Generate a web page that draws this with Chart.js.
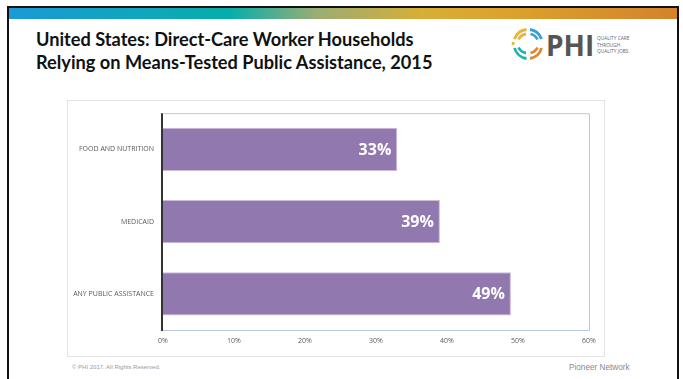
<!DOCTYPE html>
<html>
<head>
<meta charset="utf-8">
<script src="https://cdn.jsdelivr.net/npm/chart.js@4/dist/chart.umd.min.js"></script>
<style>
  html, body { margin:0; padding:0; background:#fff; width:683px; height:379px; overflow:hidden; font-family:"Open Sans", sans-serif; }
  #frame { position:absolute; left:7px; top:6px; width:672px; height:380px; border:2px solid #111; border-bottom:none; box-sizing:border-box; }
  #grad { position:absolute; left:9px; top:8px; width:668px; height:11px;
    background:linear-gradient(to right,#1b9ad6 0%,#0fa7b9 22%,#05aeaa 33%,#9aad75 46%,#d8ae36 62%,#dba22d 75%,#d4832b 100%); }
  #title { position:absolute; left:36px; top:28px; font-family:Lato, sans-serif; font-weight:bold; font-size:18.2px; line-height:23px; color:#111; white-space:nowrap; }
  #box { position:absolute; left:67px; top:100px; width:538px; height:257px; border:1px solid #e3e3e3; box-sizing:border-box; }
  #c { position:absolute; left:67px; top:100px; }
  #copy { position:absolute; left:72px; top:364px; font-family:"Liberation Sans", sans-serif; font-size:6px; color:#9a9a9a; }
  #pn { position:absolute; left:569px; top:363px; font-family:"Liberation Sans", sans-serif; font-size:8.2px; color:#8a8a8a; }
  #logo { position:absolute; left:508px; top:27px; }
</style>
</head>
<body>
<div id="frame"></div>
<div id="grad"></div>
<div id="title">United States: Direct-Care Worker Households<br>Relying on Means-Tested Public Assistance, 2015</div>
<div id="box"></div>
<svg id="logo" width="140" height="36" viewBox="0 0 140 36">
  <g fill="none" stroke-width="2.8" stroke-linecap="butt">
    <path d="M6.5 12 A14.5 14.5 0 0 1 18.5 2.5" stroke="#e9b43a"/>
    <path d="M22 2.5 A14.5 14.5 0 0 1 33.5 12" stroke="#3a9fd6"/>
    <path d="M33.5 21 A14.5 14.5 0 0 1 22 31.5" stroke="#e2862f"/>
    <path d="M18.5 31.5 A14.5 14.5 0 0 1 6.5 21" stroke="#22b0b3"/>
    <path d="M10.5 12.5 A10 10 0 0 1 18 7" stroke="#e9b43a"/>
    <path d="M22.5 7 A10 10 0 0 1 29.5 12.5" stroke="#3a9fd6"/>
    <path d="M29.5 20.5 A10 10 0 0 1 22.5 26" stroke="#e2862f"/>
    <path d="M18 26 A10 10 0 0 1 10.5 20.5" stroke="#22b0b3"/>
    <path d="M5.2 15 A15 15 0 0 0 5.2 18" stroke="#e9b43a"/>
  </g>
  <text x="38" y="29" font-family="'Open Sans', sans-serif" font-weight="bold" font-size="28" fill="#555">PHI</text>
  <text x="89" y="13" font-family="'Open Sans', sans-serif" font-size="4.8" fill="#666">QUALITY CARE</text>
  <text x="89" y="19.5" font-family="'Open Sans', sans-serif" font-size="4.8" fill="#666">THROUGH</text>
  <text x="89" y="26" font-family="'Open Sans', sans-serif" font-size="4.8" fill="#666">QUALITY JOBS</text>
</svg>
<canvas id="c" width="538" height="257"></canvas>
<div id="copy">© PHI 2017. All Rights Reserved.</div>
<div id="pn">Pioneer Network</div>
<script>
const categories = ["FOOD AND NUTRITION", "MEDICAID", "ANY PUBLIC ASSISTANCE"];
const values = [33, 39, 49];
const xTicks = [0, 10, 20, 30, 40, 50, 60];

const plotFrame = {
  id: 'plotFrame',
  afterDraw(chart) {
    const {ctx, chartArea: a} = chart;
    ctx.save();
    ctx.strokeStyle = '#b7c9e2';
    ctx.lineWidth = 1;
    ctx.beginPath();
    ctx.moveTo(a.left, a.top + 0.5); ctx.lineTo(a.right + 0.5, a.top + 0.5);
    ctx.lineTo(a.right + 0.5, a.bottom + 0.5); ctx.lineTo(a.left, a.bottom + 0.5);
    ctx.stroke();
    ctx.strokeStyle = '#333';
    ctx.lineWidth = 2;
    ctx.beginPath();
    ctx.moveTo(a.left - 1, a.top); ctx.lineTo(a.left - 1, a.bottom + 1);
    ctx.stroke();
    ctx.restore();
  }
};
const barLabels = {
  id: 'barLabels',
  afterDatasetsDraw(chart) {
    const {ctx} = chart;
    const meta = chart.getDatasetMeta(0);
    ctx.save();
    ctx.fillStyle = '#fff';
    ctx.font = 'bold 16px "Open Sans", sans-serif';
    ctx.textAlign = 'right';
    ctx.textBaseline = 'middle';
    meta.data.forEach((bar, i) => {
      ctx.fillText(values[i] + '%', bar.x - 6, bar.y + 1);
    });
    ctx.restore();
  }
};

new Chart(document.getElementById('c'), {
  type: 'bar',
  data: {
    labels: categories,
    datasets: [{
      data: values,
      backgroundColor: '#9179b0',
      borderColor: '#cbbcdc',
      borderWidth: 1,
      borderSkipped: 'left',
      categoryPercentage: 1.0,
      barPercentage: 0.6
    }]
  },
  options: {
    indexAxis: 'y',
    responsive: false,
    animation: false,
    devicePixelRatio: 1,
    layout: { padding: { top: 10, right: 16, left: 0, bottom: 0 } },
    plugins: { legend: { display: false }, tooltip: { enabled: false } },
    scales: {
      x: {
        min: 0, max: 60,
        afterBuildTicks(s) { s.ticks = xTicks.map(v => ({value: v})); },
        afterFit(s) { s.height = 27; },
        grid: { display: false, drawTicks: false },
        border: { display: false },
        ticks: { padding: 7, color: '#595959', font: { size: 7, family: '"Open Sans", sans-serif' }, callback: v => v + '%' }
      },
      y: {
        afterFit(s) { s.width = 96; },
        grid: { display: false, drawTicks: false },
        border: { display: false },
        ticks: { padding: 9, color: '#595959', font: { size: 7, family: '"Open Sans", sans-serif' } }
      }
    }
  },
  plugins: [plotFrame, barLabels]
});
</script>
</body>
</html>
